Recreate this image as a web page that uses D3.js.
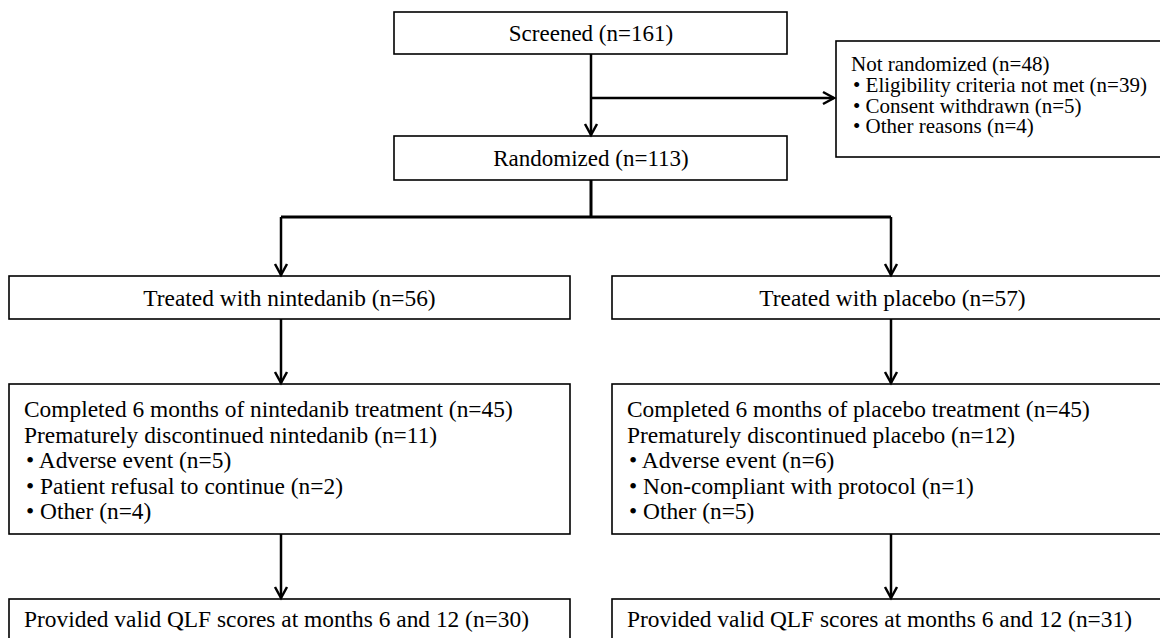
<!DOCTYPE html>
<html>
<head>
<meta charset="utf-8">
<script src="https://cdn.jsdelivr.net/npm/d3@7"></script>
<style>
  body { margin: 0; background: #fff; }
</style>
</head>
<body>
<div id="chart"></div>
<script>
// ---- data ----
const screenedN = 161;
const notRandomizedN = 48;
const exclusionReasons = ["Eligibility criteria not met", "Consent withdrawn", "Other reasons"];
const exclusionCounts = [39, 5, 4];
const randomizedN = 113;
const armNames = ["nintedanib", "placebo"];
const treatedN = [56, 57];
const completedN = [45, 45];
const discontinuedN = [11, 12];
const discontinueReasons = [
    ["Adverse event", "Patient refusal to continue", "Other"],
    ["Adverse event", "Non-compliant with protocol", "Other"]
];
const discontinueCounts = [[5, 2, 4], [6, 1, 5]];
const qlfN = [30, 31];

// ---- layout ----
const W = 1160, H = 638;
const font = "'Liberation Serif', 'Times New Roman', serif";
const fs = 23;
const fsArm = 23.4;

const svg = d3.select("#chart").append("svg")
    .attr("width", W)
    .attr("height", H);

function box(x, y, w, h) {
    svg.append("rect")
        .attr("x", x).attr("y", y)
        .attr("width", w).attr("height", h)
        .attr("fill", "none")
        .attr("stroke", "#000")
        .attr("stroke-width", 1.6);
}

function centerText(x, y, str, size) {
    svg.append("text")
        .attr("x", x).attr("y", y)
        .attr("text-anchor", "middle")
        .attr("dy", "0.35em")
        .style("font-family", font)
        .style("font-size", (size || fs) + "px")
        .attr("fill", "#000")
        .text(str);
}

function leftLines(x, y0, lines, step, size) {
    svg.append("g").selectAll("text")
        .data(lines)
        .join("text")
        .attr("x", d => d.bullet ? x + 2 : x)
        .attr("y", (d, i) => y0 + i * step)
        .style("font-family", font)
        .style("font-size", (size || fs) + "px")
        .attr("fill", "#000")
        .text(d => d.bullet ? "\u2022 " + d.text : d.text);
}

function line(pts, sw) {
    svg.append("path")
        .attr("d", d3.line()(pts))
        .attr("fill", "none")
        .attr("stroke", "#000")
        .attr("stroke-width", sw || 2.5);
}

function arrowDown(x, y1, y2) {
    line([[x, y1], [x, y2]]);
    line([[x - 6, y2 - 11], [x, y2], [x + 6, y2 - 11]]);
}

function arrowRight(x1, x2, y) {
    line([[x1, y], [x2, y]]);
    line([[x2 - 11, y - 6], [x2, y], [x2 - 11, y + 6]]);
}

// Screened
const cx = 591;
box(394, 12, 393, 42);
centerText(cx, 33, `Screened (n=${screenedN})`);

// Not randomized
box(836, 41, 340, 116);
leftLines(851, 71,
    [{ text: `Not randomized (n=${notRandomizedN})` }]
        .concat(exclusionReasons.map((r, i) => ({ bullet: true, text: `${r} (n=${exclusionCounts[i]})` }))),
    20.8, 21);

arrowDown(cx, 54, 135);
arrowRight(cx, 834, 98);

// Randomized
box(394, 136, 393, 44);
centerText(cx, 158, `Randomized (n=${randomizedN})`);

// split into the two arms
const armX = [281, 891];
const boxX = [9, 612];
const boxW = 561;
line([[cx, 180], [cx, 217]], 3);
line([[armX[0], 217], [armX[1], 217]], 3);

armNames.forEach((arm, k) => {
    arrowDown(armX[k], 217, 275);
    box(boxX[k], 276, boxW, 43);
    centerText(boxX[k] + boxW / 2, 297.5, `Treated with ${arm} (n=${treatedN[k]})`, fsArm);

    arrowDown(armX[k], 319, 383);
    box(boxX[k], 384, boxW, 150);
    const lines = [
        { text: `Completed 6 months of ${arm} treatment (n=${completedN[k]})` },
        { text: `Prematurely discontinued ${arm} (n=${discontinuedN[k]})` }
    ].concat(discontinueReasons[k].map((r, i) => ({ bullet: true, text: `${r} (n=${discontinueCounts[k][i]})` })));
    leftLines(boxX[k] + 15, 417, lines, 25.5, fsArm);

    arrowDown(armX[k], 534, 598);
    box(boxX[k], 599, boxW, 60);
    leftLines(boxX[k] + 15, 627, [{ text: `Provided valid QLF scores at months 6 and 12 (n=${qlfN[k]})` }], 25.5, fsArm);
});
</script>
</body>
</html>
